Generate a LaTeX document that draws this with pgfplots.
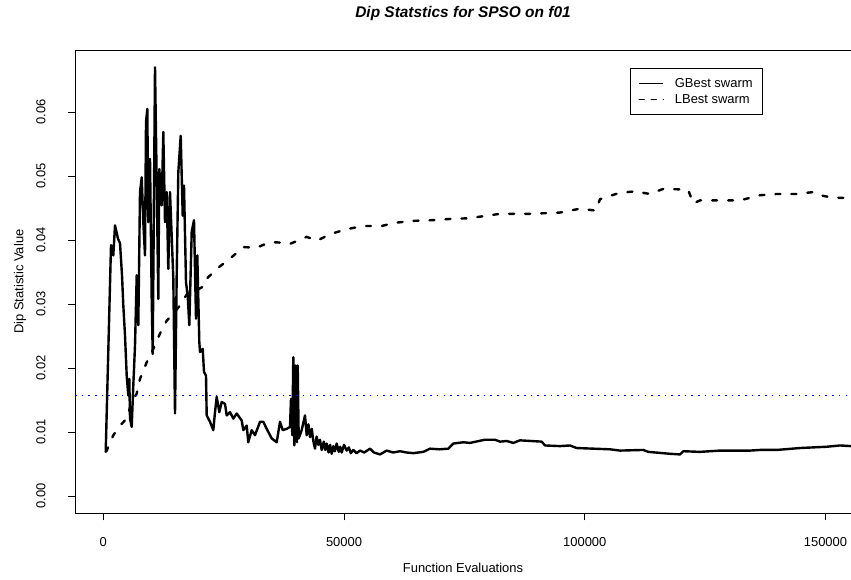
\documentclass[border=0pt]{standalone}
\usepackage{fontspec}
\setmainfont{Liberation Sans}
\usepackage{pgfplots}
\pgfplotsset{compat=1.18}
\begin{document}
\begin{tikzpicture}
\begin{axis}[
    name=ax,
    scale only axis,
    width=776bp, height=463.3bp,
    xmin=-5880, xmax=155300,
    ymin=-0.0027, ymax=0.0697,
    axis lines=left,
    axis line style={-, line width=0.9bp},
    tick align=outside,
    major tick length=7bp,
    tick style={black, line width=0.9bp},
    scaled x ticks=false, scaled y ticks=false,
    xtick={0,50000,100000,150000},
    xticklabels={0,50000,100000,150000},
    ytick={0,0.01,0.02,0.03,0.04,0.05,0.06},
    yticklabels={0.00,0.01,0.02,0.03,0.04,0.05,0.06},
    xticklabel style={font=\fontsize{13}{15}\selectfont, anchor=center},
    yticklabel style={font=\fontsize{13}{15}\selectfont, rotate=90, anchor=center},
    xticklabel shift=22bp,
    yticklabel shift=27bp,
    title={Dip Statstics for SPSO on f01},
    title style={at={(axis description cs:0.5,1)}, anchor=center, yshift=31bp,
        font=\bfseries\itshape\fontsize{15.5}{18}\selectfont},
    xlabel={Function Evaluations},
    xlabel style={at={(axis description cs:0.5,-0.118)}, anchor=center,
        font=\fontsize{13}{15}\selectfont},
    ylabel={Dip Statistic Value},
    ylabel style={at={(axis description cs:-0.0709,0.5)}, anchor=center, rotate=0,
        font=\fontsize{13}{15}\selectfont},
    legend style={at={(0.8866,0.9605)}, anchor=north east, draw=black,
        line width=0.75bp, font=\fontsize{13}{15}\selectfont,
        inner xsep=8bp, inner ysep=7.5bp, row sep=1.5bp,
        /tikz/every odd column/.append style={column sep=9bp}},
    legend cell align=left,
]
% GBest swarm
\addplot[black, line width=2.4bp, line join=round,
    legend image code/.code={\draw[black, line width=1.4bp] (0bp,0bp) -- (24bp,0bp);}]
coordinates {
(500,0.0069)(1600,0.0392)(2077,0.0376)(2430,0.0423)(3053,0.0402)(3470,0.0395)
(3884,0.0345)(4154,0.0298)(4507,0.0251)(4860,0.0188)(5193,0.0157)(5400,0.0183)
(5546,0.0121)(5899,0.0108)(6231,0.0173)(6584,0.0235)(6937,0.0345)(7270,0.0267)
(7623,0.0475)(7976,0.0498)(8308,0.0428)(8661,0.0376)(8869,0.0584)(9139,0.0605)
(9347,0.0428)(9700,0.0527)(10053,0.0308)(10260,0.0222)(10738,0.0670)(11091,0.0490)
(11424,0.0308)(11631,0.0511)(12130,0.0454)(12462,0.0569)(12815,0.0428)(13168,0.0475)
(13501,0.0355)(13854,0.0475)(14539,0.0340)(14892,0.0129)(15245,0.0345)(15578,0.0506)
(16076,0.0563)(16492,0.0438)(16761,0.0485)(17177,0.0334)(17530,0.0313)(17862,0.0267)
(18361,0.0413)(18838,0.0431)(19254,0.0277)(19524,0.0376)(19939,0.0241)(20085,0.0225)
(20645,0.0230)(20915,0.0194)(21331,0.0188)(21476,0.0126)(22162,0.0116)(22847,0.0103)
(23200,0.0131)(23553,0.0155)(24093,0.0131)(24592,0.0147)(25277,0.0144)(25630,0.0126)
(26315,0.0131)(27001,0.0121)(27707,0.0129)(28746,0.0118)(29078,0.0103)(29784,0.0110)
(30117,0.0084)(30823,0.0103)(31508,0.0095)(32547,0.0116)(33232,0.0116)(33938,0.0105)
(34977,0.0090)(36015,0.0084)(36701,0.0116)(37261,0.0103)(38092,0.0105)(38777,0.0108)
(38985,0.0152)(39255,0.0095)(39463,0.0217)(39670,0.0079)(39961,0.0204)(40231,0.0084)
(40376,0.0204)(40584,0.0090)(41207,0.0103)(41893,0.0126)(42246,0.0095)(42600,0.0112)
(42931,0.0092)(43300,0.0105)(43617,0.0086)(43970,0.0074)(44300,0.0093)(44655,0.0080)
(45000,0.0088)(45361,0.0072)(45800,0.0085)(46100,0.0072)(46400,0.0082)(46800,0.0068)
(47100,0.0080)(47438,0.0066)(47800,0.0078)(48100,0.0070)(48477,0.0082)(48900,0.0069)
(49200,0.0077)(49515,0.0068)(50000,0.0080)(50554,0.0071)(51000,0.0076)(51400,0.0067)
(51925,0.0072)(52600,0.0067)(53316,0.0071)(54200,0.0068)(55394,0.0074)(56200,0.0068)
(57471,0.0065)(58862,0.0071)(60200,0.0068)(61625,0.0070)(63000,0.0068)(64387,0.0067)
(66464,0.0069)(67856,0.0074)(69800,0.0073)(71657,0.0074)(72695,0.0082)(74772,0.0084)
(76164,0.0083)(79279,0.0088)(81356,0.0088)(82394,0.0085)(83786,0.0086)(85157,0.0083)
(86547,0.0087)(91054,0.0085)(91740,0.0079)(94855,0.0078)(96932,0.0079)(98324,0.0075)
(101772,0.0074)(105240,0.0073)(107318,0.0071)(112157,0.0072)(113196,0.0069)(117703,0.0066)
(119780,0.0065)(120466,0.0070)(123935,0.0069)(128089,0.0071)(134320,0.0071)(136397,0.0072)
(139865,0.0072)(144705,0.0075)(150250,0.0077)(153011,0.0079)(155300,0.0078)
};
\addlegendentry{GBest swarm}
% LBest swarm
\addplot[black, line width=2.4bp, line join=round, line cap=round,
    dash pattern=on 5bp off 11bp,
    legend image code/.code={\draw[black, line width=1.4bp, dash pattern=on 5bp off 7bp] (0bp,0bp) -- (24bp,0bp);}]
coordinates {
(500,0.0069)(706,0.0071)(2077,0.0095)(3469,0.0110)(4860,0.0121)(5899,0.0147)
(6937,0.0160)(7623,0.0183)(9014,0.0209)(10385,0.0230)(11777,0.0254)(13168,0.0274)
(14892,0.0288)(15930,0.0298)(17654,0.0319)(19399,0.0322)(20707,0.0327)(21123,0.0337)
(23553,0.0355)(26315,0.0371)(29078,0.0389)(31861,0.0388)(34623,0.0397)(36701,0.0396)
(38777,0.0394)(42246,0.0405)(44323,0.0399)(47438,0.0410)(50554,0.0417)(54002,0.0422)
(57824,0.0422)(60586,0.0427)(64387,0.0430)(68208,0.0431)(72009,0.0433)(75811,0.0434)
(79633,0.0438)(82394,0.0441)(88625,0.0441)(94855,0.0443)(99009,0.0449)(102332,0.0446)
(103163,0.0464)(107318,0.0474)(110433,0.0476)(113549,0.0472)(116311,0.0480)(120466,0.0479)
(121504,0.0478)(122543,0.0457)(123935,0.0462)(132243,0.0462)(136397,0.0470)(139865,0.0472)
(144019,0.0472)(147467,0.0475)(148857,0.0470)(151620,0.0466)(155300,0.0466)
};
\addlegendentry{LBest swarm}
% reference level
\addplot[draw=blue, color=blue, line width=1.6bp, line cap=butt,
    dash pattern=on 1.6bp off 5.1bp, forget plot]
coordinates {(-5880,0.01572)(155300,0.01572)};
\end{axis}
\draw[line width=0.9bp] (ax.north west) -- (ax.north east);
\pgfresetboundingbox
\path[use as bounding box] ([shift={(-75bp,-66.7bp)}]ax.south west)
    rectangle ([shift={(0bp,50bp)}]ax.north east);
\end{tikzpicture}
\end{document}
